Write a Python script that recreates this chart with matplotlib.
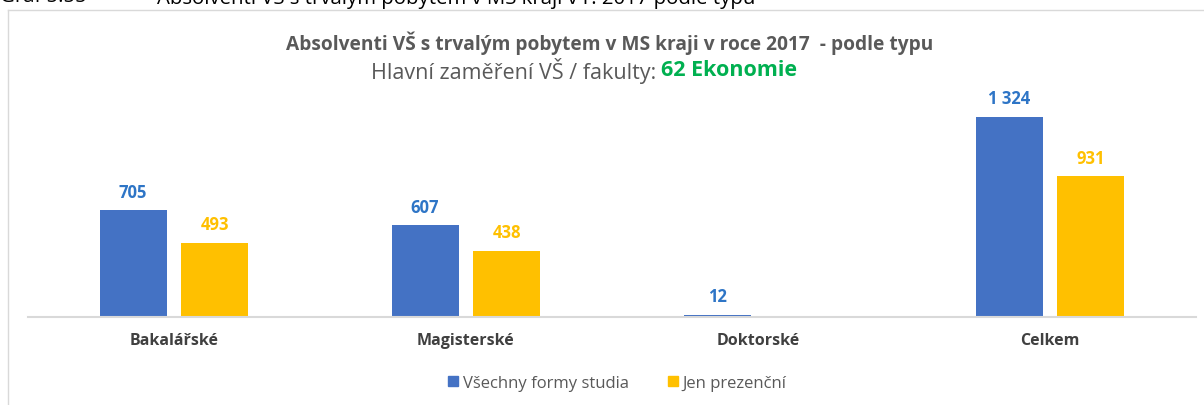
import numpy as np
import matplotlib.pyplot as plt
from matplotlib.lines import Line2D
from matplotlib.patches import Patch

plt.rcParams['font.family'] = ['Open Sans', 'DejaVu Sans']

# data
kategorie = ['Bakalářské', 'Magisterské', 'Doktorské', 'Celkem']
vsechny = [705, 607, 12, 1324]
prezencni = [493, 438, 0, 931]
nazvy_rad = ['Všechny formy studia', 'Jen prezenční']

modra = '#4472C4'
zluta = '#FFC000'
seda = '#595959'

fig = plt.figure(figsize=(12.04, 4.06), dpi=100)
ax = fig.add_axes([28 / 1204, 88 / 406, 1168 / 1204, 218 / 406])

x = np.arange(len(kategorie))
w = 0.23
b1 = ax.bar(x - w / 2 - 0.025, vsechny, w, color=modra)
b2 = ax.bar(x + w / 2 + 0.025, prezencni, w, color=zluta)

# popisky hodnot
for rect, v in zip(b1, vsechny):
    ax.annotate(f'{v:,}'.replace(',', ' '), (rect.get_x() + rect.get_width() / 2, v),
                xytext=(0, 7), textcoords='offset points', ha='center', va='bottom',
                color='#2E75C6', fontweight='bold', fontsize=12)
for rect, v in zip(b2, prezencni):
    if v == 0:
        continue
    ax.annotate(f'{v:,}'.replace(',', ' '), (rect.get_x() + rect.get_width() / 2, v),
                xytext=(0, 7), textcoords='offset points', ha='center', va='bottom',
                color=zluta, fontweight='bold', fontsize=12)

ax.set_xlim(-0.5, len(kategorie) - 0.5)
ax.set_ylim(0, 1443)
ax.set_xticks(x)
ax.set_xticklabels(kategorie, fontweight='bold', color='#404040', fontsize=11.5)
ax.tick_params(axis='x', length=0, pad=11)
ax.set_yticks([])
for s in ['top', 'right', 'left']:
    ax.spines[s].set_visible(False)
ax.spines['bottom'].set_color('#D9D9D9')
ax.spines['bottom'].set_linewidth(1.5)

# titulky
fig.text(0.506, 1 - 43 / 406, 'Absolventi VŠ s trvalým pobytem v MS kraji v roce 2017  - podle typu',
         ha='center', va='center', fontsize=13.8, fontweight='bold', color=seda)
t1 = fig.text(0.0, 1 - 71 / 406, 'Hlavní zaměření VŠ / fakulty: ', ha='left', va='center',
              fontsize=15.5, color=seda)
t2 = fig.text(0.0, 1 - 71 / 406, '62 Ekonomie', ha='left', va='center',
              fontsize=15.5, color='#00B050', fontweight='bold')
r = fig.canvas.get_renderer()
w1 = t1.get_window_extent(r).width
w2 = t2.get_window_extent(r).width
start = (584 - (w1 + w2) / 2) / 1204
t1.set_x(start)
t2.set_x(start + w1 / 1204)

# oriznuty nadpis nahore
fig.text(0.0, 1.008, 'Graf 5.55', ha='left', va='center', fontsize=14.7, color='black')
fig.text(157 / 1204, 1.008, 'Absolventi VŠ s trvalým pobytem v MS kraji v r. 2017 podle typu',
         ha='left', va='center', fontsize=14.7, color='black')

# ramecek
fig.add_artist(Line2D([8 / 1204, 8 / 1204], [0, 1 - 11 / 406], color='#D9D9D9', lw=1))
fig.add_artist(Line2D([8 / 1204, 1], [1 - 11 / 406, 1 - 11 / 406], color='#D9D9D9', lw=1))

# legenda
handles = [Patch(color=modra), Patch(color=zluta)]
fig.legend(handles, nazvy_rad, loc='center', bbox_to_anchor=(0.513, 1 - 384 / 406), ncol=2,
           frameon=False, fontsize=12, labelcolor=seda, handlelength=0.6, handleheight=0.6,
           handletextpad=0.3, columnspacing=2.3)

fig.savefig('out.png', dpi=100)
